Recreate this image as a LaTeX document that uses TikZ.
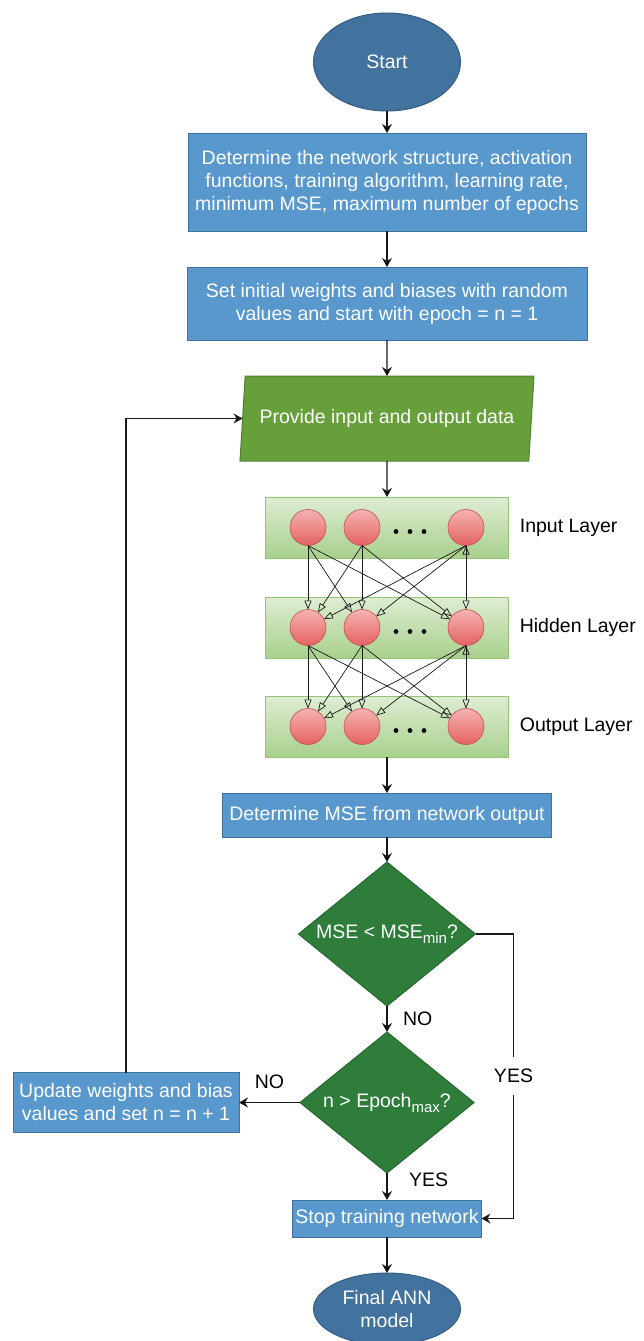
\documentclass[tikz,border=0pt]{standalone}
\usepackage{fontspec}
\setmainfont{Liberation Sans}
\usetikzlibrary{shapes.geometric, positioning, arrows.meta, calc}
\definecolor{termblue}{RGB}{66,114,158}
\definecolor{termedge}{RGB}{52,92,130}
\definecolor{procblue}{RGB}{88,152,205}
\definecolor{procedge}{RGB}{62,112,160}
\definecolor{iogreen}{RGB}{103,160,59}
\definecolor{ioedge}{RGB}{82,128,48}
\definecolor{decgreen}{RGB}{46,125,58}
\definecolor{decedge}{RGB}{40,105,50}
\definecolor{layertop}{RGB}{222,237,211}
\definecolor{layerbot}{RGB}{168,208,140}
\definecolor{layeredge}{RGB}{150,195,120}
\definecolor{neurontop}{RGB}{246,178,178}
\definecolor{neuronbot}{RGB}{228,98,98}
\definecolor{neuronedge}{RGB}{195,80,78}
\definecolor{wire}{RGB}{25,25,25}
\newcommand{\layerdots}[1]{\fill ($(#1)+(34,4)$) circle (2.4pt) ($(#1)+(48,4)$) circle (2.4pt) ($(#1)+(62,4)$) circle (2.4pt);}
\newcommand{\lowsub}[1]{\raisebox{-5pt}{\fontsize{15}{15}\selectfont #1}}
\tikzset{
>={Stealth[length=9pt, width=10pt, inset=3pt]}, % filled flow heads
node distance=36pt, % gap between the boxes of the main column
every node/.style={font=\fontsize{19.5}{23}\selectfont, outer sep=0pt},
terminal/.style={ellipse, draw=termedge, fill=termblue, text=white, line width=1pt, minimum width=147pt, minimum height=98pt, inner sep=0pt, align=center},
process/.style={rectangle, draw=procedge, fill=procblue, text=white, line width=1pt, align=center, inner sep=0pt},
inout/.style={trapezium, trapezium left angle=74, trapezium right angle=106, trapezium stretches body, draw=ioedge, fill=iogreen, text=white, line width=1pt, minimum width=294pt, minimum height=85pt, inner sep=0pt},
decision/.style={diamond, aspect=1.23, draw=decedge, fill=decgreen, text=white, line width=1pt, inner sep=0pt},
netlayer/.style={rectangle, draw=layeredge, top color=layertop, bottom color=layerbot, line width=0.8pt, minimum width=243pt, minimum height=61pt},
neuron/.style={circle, draw=neuronedge, top color=neurontop, bottom color=neuronbot, line width=0.6pt, minimum size=36pt, inner sep=0pt},
flow/.style={->, draw=wire, line width=1.2pt},
synapse/.style={-{Triangle[open, length=9pt, width=7pt]}, draw=wire, line width=0.7pt},
branch/.style={text=black, inner sep=2pt},
}
\begin{document}
\begin{tikzpicture}[x=1pt, y=-1pt]
      \useasboundingbox (0,0) rectangle (644,1341);
      \node[terminal] (start) at (387,62) {Start};
      \node[process, below=22pt of start, minimum width=398pt, minimum height=98pt] (setup) {Determine the network structure, activation\\functions, training algorithm, learning rate,\\minimum MSE, maximum number of epochs};
      \node[process, below=of setup, minimum width=400pt, minimum height=73pt] (init) {Set initial weights and biases with random\\values and start with epoch = n = 1};
      \node[inout, below=of init] (data) {Provide input and output data};
      % the network
      \node[netlayer, below=of data] (inl) {};
      \node[netlayer, below=39pt of inl] (hidl) {};
      \node[netlayer, below=38pt of hidl] (outl) {};
      \node[neuron, xshift=-79pt] (in1) at (inl) {};
      \node[neuron, xshift=-25pt] (in2) at (inl) {};
      \node[neuron, xshift=79pt] (in3) at (inl) {};
      \node[neuron, xshift=-79pt] (hid1) at (hidl) {};
      \node[neuron, xshift=-25pt] (hid2) at (hidl) {};
      \node[neuron, xshift=79pt] (hid3) at (hidl) {};
      \node[neuron, xshift=-79pt] (out1) at (outl) {};
      \node[neuron, xshift=-25pt] (out2) at (outl) {};
      \node[neuron, xshift=79pt] (out3) at (outl) {};
      \node[right=8pt of inl] (inlabel) {Input Layer};
      \node[right=8pt of hidl] (hidlabel) {Hidden Layer};
      \node[right=8pt of outl] (outlabel) {Output Layer};
      \layerdots{in2}
      \layerdots{hid2}
      \layerdots{out2}
      % checks
      \node[process, below=of outl, minimum width=329pt, minimum height=44pt] (mse) {Determine MSE from network output};
      \node[decision, below=25pt of mse, minimum width=177pt, minimum height=144pt] (conv) {MSE < MSE\lowsub{min}?};
      \node[decision, below=26pt of conv, minimum width=174pt, minimum height=141pt] (epoch) {n > Epoch\lowsub{max}?};
      \node[process, below=27pt of epoch, minimum width=189pt, minimum height=37pt] (stop) {Stop training network};
      \node[terminal, below=of stop, minimum height=72pt] (final) {Final ANN\\model};
      \node[process, left=61pt of epoch, minimum width=226pt, minimum height=60pt] (update) {Update weights and bias\\values and set n = n + 1};
      \draw[synapse] (in1.south) edge (hid1) (in1.south) edge (hid2) (in1.south) edge (hid3)
      (in2.south) edge (hid1) (in2.south) edge (hid2) (in2.south) edge (hid3)
      (in3.south) edge (hid1) (in3.south) edge (hid2) (in3.south) edge (hid3);
      \draw[synapse] (hid1.south) edge (out1) (hid1.south) edge (out2) (hid1.south) edge (out3)
      (hid2.south) edge (out1) (hid2.south) edge (out2) (hid2.south) edge (out3)
      (hid3.south) edge (out1) (hid3.south) edge (out2) (hid3.south) edge (out3);
      \draw[flow] (start) edge (setup)
      (setup) edge (init)
      (init) edge (data)
      (data) edge (inl)
      (outl) edge (mse)
      (mse) edge (conv)
      (conv) edge node[branch, right=14pt]{NO} (epoch)
      (epoch) edge node[branch, right=20pt, pos=0.25]{YES} (stop)
      (epoch) edge node[branch, above=12pt]{NO} (update)
      (stop) edge (final);
      \draw[flow] (conv.east) -- ++(38,0) |- node[branch, pos=0.25, fill=white, inner ysep=12pt]{YES} (stop.east);
      \draw[flow] (update.north) |- (data.left side);
    \end{tikzpicture}
\end{document}
